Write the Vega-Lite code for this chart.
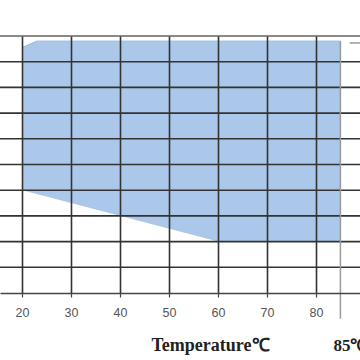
{
  "$schema": "https://vega.github.io/schema/vega-lite/v6.json",
  "width": 360,
  "height": 257,
  "autosize": "none",
  "padding": {"left": 0, "top": 36, "right": 0, "bottom": 67},
  "background": "white",
  "config": {"view": {"stroke": null}},
  "datasets": {
    "region": [
      {"temp": 20, "upper": 95.5, "lower": 40},
      {"temp": 23, "upper": 98, "lower": 38.5},
      {"temp": 60, "upper": 98, "lower": 20},
      {"temp": 85, "upper": 98, "lower": 20}
    ],
    "hgrid": [{"h": 10}, {"h": 20}, {"h": 30}, {"h": 40}, {"h": 50}, {"h": 60}, {"h": 70}, {"h": 80}, {"h": 90}],
    "topline": [{"h": 100}],
    "marker": [{"temp": 85, "top": 98, "bottom": -10}],
    "tickline": [{"t1": 86.9, "t2": 89, "h": 97.3}],
    "label": [{"temp": 85, "h": -22.5, "text": "85℃"}]
  },
  "layer": [
    {
      "data": {"name": "region"},
      "mark": {"type": "area", "color": "#abc7e9", "opacity": 1, "line": {"color": "#98b6de", "strokeWidth": 1}},
      "encoding": {
        "x": {
          "field": "temp", "type": "quantitative",
          "scale": {"domain": [15.5, 89], "nice": false, "zero": false},
          "axis": {
            "values": [20, 30, 40, 50, 60, 70, 80],
            "grid": true, "gridColor": "#333", "gridWidth": 1.6, "gridOpacity": 1,
            "domainColor": "#444", "domainWidth": 1.6,
            "tickColor": "#444", "tickSize": 4, "tickWidth": 1.2,
            "labelFont": "Liberation Sans", "labelFontSize": 12.5, "labelColor": "#555", "labelPadding": 9,
            "title": "Temperature℃", "titleFont": "Liberation Serif", "titleFontSize": 18, "titleFontWeight": "bold", "titleColor": "#222",
            "titleX": 210, "titleY": 57, "titleAlign": "center", "titleBaseline": "alphabetic",
            "zindex": 1
          }
        },
        "y": {
          "field": "upper", "type": "quantitative",
          "scale": {"domain": [0, 100], "nice": false},
          "axis": null
        },
        "y2": {"field": "lower"}
      }
    },
    {
      "data": {"name": "hgrid"},
      "mark": {"type": "rule", "color": "#333", "strokeWidth": 1.6},
      "encoding": {
        "y": {"field": "h", "type": "quantitative"}
      }
    },
    {
      "data": {"name": "topline"},
      "mark": {"type": "rule", "color": "#8a8a8a", "strokeWidth": 1.8},
      "encoding": {
        "y": {"field": "h", "type": "quantitative"}
      }
    },
    {
      "data": {"name": "marker"},
      "mark": {"type": "rule", "color": "#9a9a9a", "strokeWidth": 1.5, "clip": false},
      "encoding": {
        "x": {"field": "temp", "type": "quantitative"},
        "y": {"field": "top", "type": "quantitative"},
        "y2": {"field": "bottom"}
      }
    },
    {
      "data": {"name": "tickline"},
      "mark": {"type": "rule", "color": "#9a9a9a", "strokeWidth": 1.5, "clip": false},
      "encoding": {
        "x": {"field": "t1", "type": "quantitative"},
        "x2": {"field": "t2"},
        "y": {"field": "h", "type": "quantitative"}
      }
    },
    {
      "data": {"name": "label"},
      "mark": {"type": "text", "font": "Liberation Serif", "fontSize": 17, "fontWeight": "bold", "color": "#222", "align": "left", "baseline": "alphabetic", "dx": -7, "clip": false},
      "encoding": {
        "x": {"field": "temp", "type": "quantitative"},
        "y": {"field": "h", "type": "quantitative"},
        "text": {"field": "text"}
      }
    }
  ]
}
